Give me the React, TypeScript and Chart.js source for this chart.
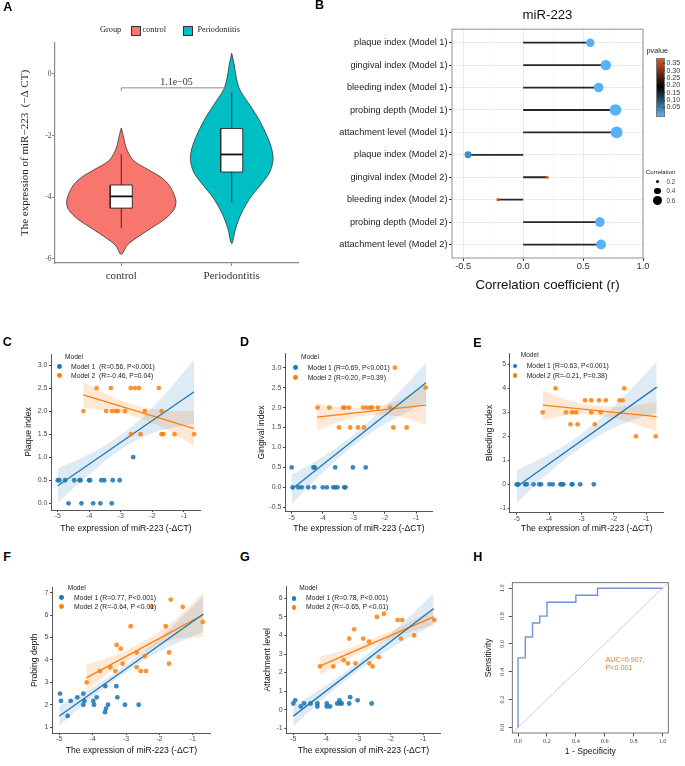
import React, { useEffect, useRef } from 'react';
import { Chart, registerables } from 'chart.js';

Chart.register(...registerables);

const SANS = '"Liberation Sans", Arial, sans-serif';
const SERIF = '"Liberation Serif", "Times New Roman", serif';

// ---------------- Panel A data ----------------
const GROUPS = ['control', 'Periodontitis'];
const GROUP_COLORS = ['#F8766D', '#00BFC4'];
const A_Y_TICKS = [-6, -4, -2, 0];
const A_Y_RANGE = [-6.13, 1.005];
const VIOLIN_CONTROL_Y = [-1.75, -2.0, -2.4, -2.8, -3.1, -3.35, -3.6, -3.9, -4.15, -4.4, -4.7, -5.0, -5.3, -5.55, -5.85];
const VIOLIN_CONTROL_HW = [0, 0.018, 0.045, 0.108, 0.243, 0.36, 0.432, 0.477, 0.495, 0.477, 0.396, 0.27, 0.144, 0.054, 0];
const VIOLIN_PERIO_Y = [0.67, 0.3, -0.1, -0.5, -0.9, -1.4, -1.9, -2.4, -2.8, -3.2, -3.6, -4.0, -4.5, -5.0, -5.5];
const VIOLIN_PERIO_HW = [0, 0.0225, 0.04, 0.072, 0.144, 0.234, 0.306, 0.36, 0.374, 0.342, 0.261, 0.171, 0.09, 0.036, 0];
// [lower whisker, Q1, median, Q3, upper whisker]
const BOX_CONTROL = [-5.0, -4.35, -3.97, -3.6, -2.6];
const BOX_PERIO = [-4.16, -3.18, -2.61, -1.77, -0.6];
const BRACKET_Y = [-0.55, -0.45];
const A_P_LABEL = '1.1e\u221205';

// ---------------- Panel B data ----------------
const B_LABELS = [
  'plaque index (Model 1)', 'gingival index (Model 1)', 'bleeding index (Model 1)', 'probing depth (Model 1)', 'attachment level (Model 1)',
  'plaque index (Model 2)', 'gingival index (Model 2)', 'bleeding index (Model 2)', 'probing depth (Model 2)', 'attachment level (Model 2)',
];
const B_CORR = [0.56, 0.69, 0.63, 0.77, 0.78, -0.46, 0.20, -0.21, 0.64, 0.65];
const B_PVAL = [0.001, 0.001, 0.001, 0.001, 0.001, 0.04, 0.39, 0.38, 0.001, 0.001];
const B_X_TICKS = [-0.5, -0.25, 0, 0.25, 0.5, 0.75, 1.0];
const B_X_RANGE = [-0.594, 1.0];
const B_P_LEGEND = [0.35, 0.30, 0.25, 0.20, 0.15, 0.10, 0.05];
const B_SIZE_LEGEND = [0.2, 0.4, 0.6];

// ---------------- Scatter panels (C-G) ----------------
const X_RANGE = [-5.216, -0.464];
const X_TICKS = [-5, -4, -3, -2, -1];
const FIT1_X = [-5.0, -0.68];
const FIT2_X = [-4.19, -0.68];
const BAND1_X = [-5.0, -4.0, -3.0, -2.0, -0.68];
const BAND2_X = [-4.19, -3.3, -2.5, -1.6, -0.68];

const C_M1_X = [-5.0, -4.95, -4.77, -4.66, -4.48, -4.31, -4.28, -4.25, -4.01, -3.98, -3.88, -3.65, -3.62, -3.53, -3.29, -3.26, -3.04, -2.61];
const C_M1_Y = [0.5, 0.5, 0.5, 0, 0.5, 0.5, 0.5, 0, 0.5, 0.5, 0, 0, 0.5, 0.5, 0, 0.5, 0.5, 1.0];
const C_M2_X = [-4.19, -3.77, -3.47, -3.32, -3.28, -3.16, -3.10, -2.87, -2.69, -2.68, -2.56, -2.43, -2.38, -2.24, -1.80, -1.71, -1.71, -1.66, -1.30, -0.68];
const C_M2_Y = [2.0, 2.5, 2.0, 2.5, 2.0, 2.0, 2.0, 2.0, 2.5, 1.5, 2.5, 2.5, 1.5, 2.0, 2.5, 2.0, 1.5, 1.5, 1.5, 1.5];
const C_FIT1_Y = [0.38, 2.42];
const C_FIT2_Y = [2.35, 1.62];
const C_BAND1_LO = [0.02, 0.63, 1.17, 1.52, 1.73];
const C_BAND1_HI = [0.76, 1.07, 1.49, 2.08, 3.11];
const C_BAND2_LO = [2.07, 2.0, 1.86, 1.61, 1.24];
const C_BAND2_HI = [2.63, 2.32, 2.12, 2.01, 2.0];
const C_Y_TICKS = [0, 0.5, 1, 1.5, 2, 2.5, 3];

const D_M1_X = [-5.0, -4.97, -4.79, -4.68, -4.47, -4.30, -4.26, -4.28, -4.0, -3.87, -3.66, -3.60, -3.60, -3.53, -3.31, -3.27, -3.03, -2.62];
const D_M1_Y = [0.5, 0, 0, 0, 0, 0.5, 0.5, 0, 0, 0, 0, 0, 0.5, 0, 0, 0, 0.5, 0.5];
const D_M2_X = [-4.17, -3.79, -3.48, -3.35, -3.30, -3.16, -3.12, -2.87, -2.70, -2.68, -2.58, -2.47, -2.42, -2.23, -1.83, -1.73, -1.68, -1.30, -0.69];
const D_M2_Y = [2.0, 2.0, 1.5, 2.0, 2.0, 2.0, 1.5, 1.5, 2.0, 1.5, 2.0, 2.0, 2.0, 2.0, 2.0, 1.5, 3.0, 1.5, 2.5];
const D_FIT1_Y = [-0.05, 2.62];
const D_FIT2_Y = [1.76, 2.06];
const D_BAND1_LO = [-0.42, 0.37, 1.05, 1.59, 2.12];
const D_BAND1_HI = [0.32, 0.77, 1.33, 2.03, 3.12];
const D_BAND2_LO = [1.42, 1.68, 1.80, 1.78, 1.56];
const D_BAND2_HI = [2.10, 2.0, 2.02, 2.18, 2.56];
const D_Y_TICKS = [-0.5, 0, 0.5, 1, 1.5, 2, 2.5, 3];

const E_M1_X = [-5.0, -4.95, -4.74, -4.69, -4.48, -4.30, -4.25, -3.99, -3.89, -3.65, -3.61, -3.56, -3.30, -3.28, -3.04, -2.62];
const E_M1_Y = [0, 0, 0, 0, 0, 0, 0, 0, 0, 0, 0, 0, 0, 0, 0, 0];
const E_M2_X = [-4.20, -3.80, -3.48, -3.34, -3.29, -3.17, -3.12, -2.89, -2.70, -2.70, -2.59, -2.46, -2.41, -2.25, -1.83, -1.73, -1.68, -1.32, -0.71];
const E_M2_Y = [3.0, 4.0, 3.0, 2.5, 3.0, 3.0, 2.5, 3.5, 3.5, 3.0, 2.5, 3.5, 3.0, 3.5, 3.5, 3.5, 4.0, 2.0, 2.0];
const E_FIT1_Y = [-0.1, 4.05];
const E_FIT2_Y = [3.3, 2.82];
const E_BAND1_LO = [-0.8, 0.49, 1.55, 2.35, 3.0];
const E_BAND1_HI = [0.6, 1.25, 2.11, 3.25, 5.1];
const E_BAND2_LO = [2.68, 2.9, 2.87, 2.62, 2.2];
const E_BAND2_HI = [3.92, 3.46, 3.27, 3.26, 3.44];
const E_Y_TICKS = [-1, 0, 1, 2, 3, 4, 5];

const F_M1_X = [-4.98, -4.95, -4.75, -4.66, -4.46, -4.28, -4.28, -4.25, -3.98, -3.96, -3.88, -3.62, -3.63, -3.60, -3.54, -3.29, -3.26, -3.03, -2.62];
const F_M1_Y = [2.5, 2.17, 1.5, 2.17, 2.33, 2.5, 2.0, 2.17, 2.17, 2.0, 2.33, 2.83, 1.67, 1.83, 2.0, 2.83, 2.33, 2.0, 2.0];
const F_M2_X = [-4.18, -3.78, -3.47, -3.32, -3.28, -3.16, -3.10, -2.86, -2.68, -2.68, -2.56, -2.44, -2.40, -2.23, -1.81, -1.71, -1.71, -1.66, -1.30, -0.70];
const F_M2_Y = [3.0, 3.5, 3.67, 3.5, 4.67, 4.5, 3.83, 5.5, 4.33, 3.67, 3.5, 4.17, 3.5, 6.38, 5.5, 4.33, 3.83, 6.69, 6.36, 5.69];
const F_FIT1_Y = [1.5, 6.05];
const F_FIT2_Y = [3.2, 6.02];
const F_BAND1_LO = [1.05, 2.34, 3.44, 4.37, 5.25];
const F_BAND1_HI = [1.95, 2.78, 3.8, 4.97, 6.85];
const F_BAND2_LO = [2.62, 3.63, 4.32, 4.9, 5.02];
const F_BAND2_HI = [3.78, 4.23, 4.82, 5.7, 7.02];
const F_Y_TICKS = [1, 2, 3, 4, 5, 6, 7];

const G_M1_X = [-5.0, -4.94, -4.77, -4.67, -4.47, -4.26, -4.26, -3.97, -3.97, -3.87, -3.65, -3.58, -3.56, -3.51, -3.28, -3.25, -3.02, -2.59];
const G_M1_Y = [0.33, 0.5, 0.17, 0.33, 0.33, 0.33, 0.17, 0.33, 0.17, 0.17, 0.33, 0.5, 0.33, 0.33, 0.33, 0.67, 0.5, 0.33];
const G_M2_X = [-4.18, -3.77, -3.45, -3.32, -3.28, -3.13, -3.09, -2.85, -2.67, -2.66, -2.56, -2.43, -2.37, -2.21, -1.79, -1.69, -1.65, -1.28, -0.66];
const G_M2_Y = [2.33, 2.33, 2.67, 2.5, 3.83, 4.33, 2.5, 3.83, 3.67, 2.5, 2.33, 5.0, 2.83, 5.17, 4.83, 3.83, 4.83, 4.0, 4.83];
const G_FIT1_Y = [-0.35, 5.45];
const G_FIT2_Y = [2.35, 5.0];
const G_BAND1_LO = [-0.9, 0.7, 2.1, 3.3, 4.6];
const G_BAND1_HI = [0.2, 1.3, 2.6, 4.1, 6.27];
const G_BAND2_LO = [1.85, 2.76, 3.42, 4.07, 4.58];
const G_BAND2_HI = [2.85, 3.30, 3.86, 4.57, 5.42];
const G_Y_TICKS = [-1, 0, 1, 2, 3, 4, 5, 6];

// ---------------- Panel H data ----------------
const ROC_FPR = [0, 0, 0.05, 0.05, 0.10, 0.10, 0.15, 0.15, 0.20, 0.20, 0.40, 0.40, 0.55, 0.55, 1.0];
const ROC_TPR = [0, 0.5, 0.5, 0.65, 0.65, 0.75, 0.75, 0.80, 0.80, 0.90, 0.90, 0.95, 0.95, 1.0, 1.0];
const H_RANGE = [-0.04, 1.04];
const H_TICKS = [0, 0.2, 0.4, 0.6, 0.8, 1.0];
const AUC_LINES = ['AUC=0.907,', 'P<0.001'];

// ---------------- colours ----------------
const BLUE_PT = 'rgba(31,119,180,0.88)';
const ORANGE_PT = 'rgba(255,127,14,0.85)';
const BLUE_LINE = '#1F77B4';
const ORANGE_LINE = '#FF7F0E';
const BLUE_BAND = 'rgba(31,119,180,0.15)';
const ORANGE_BAND = 'rgba(255,127,14,0.17)';
const P_LOW = [86, 177, 247];
const P_HIGH = [232, 84, 30];

type XY = { x: number; y: number };
const zip = (xs: number[], ys: number[]): XY[] => xs.map((x, i) => ({ x, y: ys[i] }));
const fixSize = (size: number) => (s: any) => { if (s.isHorizontal()) s.height = size; else s.width = size; };
const setTicks = (vals: number[]) => (s: any) => { s.ticks = vals.map((v) => ({ value: v })); };

function pColor(p: number) {
  const lo = Math.min(...B_PVAL), hi = Math.max(...B_PVAL), mid = 0.2;
  let c: number[];
  if (p <= mid) { const t = (p - lo) / (mid - lo); c = P_LOW.map((v) => v * (1 - t)); }
  else { const t = (p - mid) / (hi - mid); c = P_HIGH.map((v) => v * t); }
  return `rgb(${c.map((v) => Math.round(v)).join(',')})`;
}
const sizeOf = (r: number) => 7.6 * Math.abs(r);

const framePlugin = {
  id: 'frame',
  afterDraw(chart: any, _a: any, opts: any) {
    const { ctx, chartArea: a } = chart;
    ctx.save();
    ctx.strokeStyle = opts.color; ctx.lineWidth = opts.width;
    ctx.strokeRect(a.left, a.top, a.right - a.left, a.bottom - a.top);
    ctx.restore();
  },
};

type Box = { x: number; y: number; w: number; h: number };

// ---------------- Panel A ----------------
const A_BOX: Box = { x: 0, y: 0, w: 300, h: 292 };
const A_AREA = { l: 55, t: 43, r: 298, b: 263 };

function violinPoints(c: number, ys: number[], hw: number[]): XY[] {
  const right = ys.map((y, i) => ({ x: c + hw[i], y }));
  const left = ys.map((y, i) => ({ x: c - hw[i], y })).reverse().slice(1);
  return [...right, ...left];
}
function boxDatasets(c: number, b: number[]) {
  const hw = 0.1;
  return [
    { data: [{ x: c, y: b[0] }, { x: c, y: b[1] }], borderColor: '#222', borderWidth: 0.9, order: 4 },
    { data: [{ x: c, y: b[3] }, { x: c, y: b[4] }], borderColor: '#222', borderWidth: 0.9, order: 4 },
    { data: [{ x: c - hw, y: b[1] }, { x: c + hw, y: b[1] }, { x: c + hw, y: b[3] }, { x: c - hw, y: b[3] }, { x: c - hw, y: b[1] }],
      borderColor: '#222', borderWidth: 0.9, backgroundColor: '#FFFFFF', fill: 'shape', order: 3 },
    { data: [{ x: c - hw, y: b[2] }, { x: c + hw, y: b[2] }], borderColor: '#111', borderWidth: 1.8, order: 2 },
  ];
}

function aConfig(): any {
  const titleLh = 11 * 1.2;
  return {
    type: 'line',
    data: {
      datasets: [
        { data: violinPoints(1, VIOLIN_CONTROL_Y, VIOLIN_CONTROL_HW), borderColor: '#333', borderWidth: 0.8, backgroundColor: GROUP_COLORS[0], fill: 'shape', tension: 0.3, order: 5 },
        { data: violinPoints(2, VIOLIN_PERIO_Y, VIOLIN_PERIO_HW), borderColor: '#333', borderWidth: 0.8, backgroundColor: GROUP_COLORS[1], fill: 'shape', tension: 0.3, order: 5 },
        ...boxDatasets(1, BOX_CONTROL),
        ...boxDatasets(2, BOX_PERIO),
        { data: [{ x: 1, y: BRACKET_Y[0] }, { x: 1, y: BRACKET_Y[1] }, { x: 2, y: BRACKET_Y[1] }, { x: 2, y: BRACKET_Y[0] }], borderColor: '#8a8a8a', borderWidth: 1, order: 1 },
      ],
    },
    options: {
      responsive: false, animation: false, events: [],
      elements: { point: { radius: 0 }, line: { tension: 0 } },
      layout: { padding: { left: 0, top: A_AREA.t - A_BOX.y, right: A_BOX.x + A_BOX.w - A_AREA.r, bottom: 0 } },
      plugins: { legend: { display: false }, tooltip: { enabled: false } },
      scales: {
        x: {
          type: 'linear', min: 0.4, max: 2.6,
          afterBuildTicks: setTicks([1, 2]), afterFit: fixSize(A_BOX.y + A_BOX.h - A_AREA.b),
          ticks: { callback: (v: number) => GROUPS[Math.round(v) - 1], font: { family: SERIF, size: 11 }, color: '#333', padding: 4 },
          grid: { drawOnChartArea: false, tickLength: 3, tickColor: '#8a8a8a' },
          border: { color: '#8a8a8a', width: 1.2 },
        },
        y: {
          type: 'linear', min: A_Y_RANGE[0], max: A_Y_RANGE[1],
          afterBuildTicks: setTicks(A_Y_TICKS), afterFit: fixSize(A_AREA.l - A_BOX.x),
          ticks: { callback: (v: number) => String(v), font: { family: SERIF, size: 7.5 }, color: '#4D4D4D', padding: 0.5 },
          grid: { drawOnChartArea: false, tickLength: 3, tickColor: '#8a8a8a' },
          border: { color: '#8a8a8a', width: 1.2 },
          title: { display: true, text: 'The expression of miR\u2212223  (\u2212\u0394 CT)', font: { family: SERIF, size: 11 }, color: '#222', padding: { top: 25 - A_BOX.x - titleLh / 2, bottom: 0 } },
        },
      },
    },
  };
}

// ---------------- Panel B ----------------
const B_BOX: Box = { x: 300, y: 0, w: 385, h: 300 };
const B_AREA = { l: 452, t: 29, r: 643, b: 258 };

function bConfig(): any {
  const stems = B_CORR.map((v, i) => ({ data: [{ x: 0, y: i }, { x: v, y: i }], borderColor: '#262626', borderWidth: 1.8, order: 2 }));
  const dots = {
    data: B_CORR.map((v, i) => ({ x: v, y: i })), showLine: false,
    pointRadius: B_CORR.map(sizeOf), pointBackgroundColor: B_PVAL.map(pColor), pointBorderWidth: 0, pointBorderColor: 'transparent', order: 1,
  };
  const xLh = 13.2 * 1.2;
  const isMajor = (v: number) => Math.abs(v * 2 - Math.round(v * 2)) < 1e-6;
  return {
    type: 'line',
    data: { datasets: [dots, ...stems] },
    plugins: [framePlugin],
    options: {
      responsive: false, animation: false, events: [],
      elements: { point: { radius: 0 } },
      layout: { padding: { left: 0, top: 0, right: B_BOX.x + B_BOX.w - B_AREA.r, bottom: 0 } },
      plugins: {
        legend: { display: false }, tooltip: { enabled: false },
        title: { display: true, text: 'miR-223', fullSize: false, font: { family: SANS, size: 13.2, weight: 'normal' }, color: '#111', padding: { top: 7.2, bottom: 6.2 } },
        frame: { color: '#A3A3A3', width: 1.2 },
      },
      scales: {
        x: {
          type: 'linear', min: B_X_RANGE[0], max: B_X_RANGE[1],
          afterBuildTicks: setTicks(B_X_TICKS), afterFit: fixSize(B_BOX.y + B_BOX.h - B_AREA.b),
          ticks: { callback: (v: number) => (isMajor(v) ? v.toFixed(1) : ''), font: { family: SANS, size: 9.3 }, color: '#333', padding: 0, maxRotation: 0 },
          grid: {
            color: (c: any) => (c.tick && isMajor(c.tick.value) ? '#EBEBEB' : '#F4F4F4'),
            lineWidth: (c: any) => (c.tick && isMajor(c.tick.value) ? 1 : 0.6),
            tickColor: (c: any) => (c.tick && isMajor(c.tick.value) ? '#333' : 'rgba(0,0,0,0)'),
            tickLength: 3,
          },
          border: { display: false },
          title: { display: true, text: 'Correlation coefficient (r)', font: { family: SANS, size: 13.2 }, color: '#111', padding: { top: 0, bottom: B_BOX.y + B_BOX.h - 285.3 - xLh / 2 } },
        },
        y: {
          type: 'linear', min: -0.6, max: 9.6, reverse: true,
          afterBuildTicks: setTicks(B_LABELS.map((_, i) => i)), afterFit: fixSize(B_AREA.l - B_BOX.x),
          ticks: { callback: (v: number) => B_LABELS[v], font: { family: SANS, size: 9.2 }, color: '#222', padding: 1.5 },
          grid: { color: '#EBEBEB', lineWidth: 1, tickColor: '#333', tickLength: 3 },
          border: { display: false },
        },
      },
    },
  };
}

// ---------------- Scatter panels ----------------
type Area = { l: number; t: number; r: number; b: number };
interface ScatterSpec {
  area: Area; yRange: number[]; yTicks: number[]; yDec: number; yTitle: string; yTitleCX: number; xTitleCY: number;
  m1x: number[]; m1y: number[]; m2x: number[]; m2y: number[]; fit1y: number[]; fit2y: number[];
  b1lo: number[]; b1hi: number[]; b2lo: number[]; b2hi: number[];
  legend: { tx: number; ty: number; dx: number; d1: number; d2: number; lx: number; t1: string; t2: string };
}

const SCATTERS: ScatterSpec[] = [
  { area: { l: 51, t: 354, r: 200.9, b: 510 }, yRange: [-0.145, 3.239], yTicks: C_Y_TICKS, yDec: 1, yTitle: 'Plaque index', yTitleCX: 28.3, xTitleCY: 529,
    m1x: C_M1_X, m1y: C_M1_Y, m2x: C_M2_X, m2y: C_M2_Y, fit1y: C_FIT1_Y, fit2y: C_FIT2_Y, b1lo: C_BAND1_LO, b1hi: C_BAND1_HI, b2lo: C_BAND2_LO, b2hi: C_BAND2_HI,
    legend: { tx: 65, ty: 356.7, dx: 59.3, d1: 366.7, d2: 375.7, lx: 71, t1: 'Model 1  (R=0.56, P<0.001)', t2: 'Model 2  (R=-0.46, P=0.04)' } },
  { area: { l: 285, t: 353.3, r: 432.7, b: 511.7 }, yRange: [-0.61, 3.36], yTicks: D_Y_TICKS, yDec: 1, yTitle: 'Gingival index', yTitleCX: 261.7, xTitleCY: 529,
    m1x: D_M1_X, m1y: D_M1_Y, m2x: D_M2_X, m2y: D_M2_Y, fit1y: D_FIT1_Y, fit2y: D_FIT2_Y, b1lo: D_BAND1_LO, b1hi: D_BAND1_HI, b2lo: D_BAND2_LO, b2hi: D_BAND2_HI,
    legend: { tx: 301, ty: 357.3, dx: 295.7, d1: 367.7, d2: 377.7, lx: 307.7, t1: 'Model 1 (R=0.69, P<0.001)', t2: 'Model 2 (R=0.20, P=0.39)' } },
  { area: { l: 509.7, t: 353.3, r: 663.7, b: 512.7 }, yRange: [-1.18, 5.46], yTicks: E_Y_TICKS, yDec: 0, yTitle: 'Bleeding index', yTitleCX: 489.3, xTitleCY: 529,
    m1x: E_M1_X, m1y: E_M1_Y, m2x: E_M2_X, m2y: E_M2_Y, fit1y: E_FIT1_Y, fit2y: E_FIT2_Y, b1lo: E_BAND1_LO, b1hi: E_BAND1_HI, b2lo: E_BAND2_LO, b2hi: E_BAND2_HI,
    legend: { tx: 520.7, ty: 355, dx: 515, d1: 366, d2: 375.7, lx: 526.7, t1: 'Model 1 (R=0.63, P<0.001)', t2: 'Model 2 (R=-0.21, P=0.38)' } },
  { area: { l: 52.1, t: 587.7, r: 210.6, b: 733 }, yRange: [0.74, 7.22], yTicks: F_Y_TICKS, yDec: 0, yTitle: 'Probing depth', yTitleCX: 35, xTitleCY: 751,
    m1x: F_M1_X, m1y: F_M1_Y, m2x: F_M2_X, m2y: F_M2_Y, fit1y: F_FIT1_Y, fit2y: F_FIT2_Y, b1lo: F_BAND1_LO, b1hi: F_BAND1_HI, b2lo: F_BAND2_LO, b2hi: F_BAND2_HI,
    legend: { tx: 67.7, ty: 588.3, dx: 61.7, d1: 597.7, d2: 606.7, lx: 74, t1: 'Model 1 (R=0.77, P<0.001)', t2: 'Model 2 (R=-0.64, P <0.01)' } },
  { area: { l: 286.3, t: 586.7, r: 440.7, b: 733 }, yRange: [-1.26, 6.63], yTicks: G_Y_TICKS, yDec: 0, yTitle: 'Attachment level', yTitleCX: 267.3, xTitleCY: 751,
    m1x: G_M1_X, m1y: G_M1_Y, m2x: G_M2_X, m2y: G_M2_Y, fit1y: G_FIT1_Y, fit2y: G_FIT2_Y, b1lo: G_BAND1_LO, b1hi: G_BAND1_HI, b2lo: G_BAND2_LO, b2hi: G_BAND2_HI,
    legend: { tx: 299.3, ty: 588.3, dx: 294, d1: 598.3, d2: 607.3, lx: 306, t1: 'Model 1 (R=0.78, P<0.001)', t2: 'Model 2 (R=-0.65, P <0.01)' } },
];

function scatterBox(s: ScatterSpec): Box {
  const x = Math.floor(s.area.l - 48);
  const y = Math.floor(s.area.t - 10);
  return { x, y, w: Math.ceil(s.area.r + 14) - x, h: Math.min(766, Math.ceil(s.area.b + 32)) - y };
}

function scatterConfig(s: ScatterSpec): any {
  const box = scatterBox(s);
  const fs = 8.6, lh = fs * 1.2;
  const axisCol = '#444';
  const tickFont = { family: SANS, size: 7 };
  const band = (xs: number[], ys: number[], fill: any, bg: string) => ({
    data: zip(xs, ys), borderColor: 'transparent', borderWidth: 0, fill, backgroundColor: bg, tension: 0.4, order: 3,
  });
  return {
    type: 'line',
    data: {
      datasets: [
        { data: zip(s.m2x, s.m2y), showLine: false, pointRadius: 2.4, pointBackgroundColor: ORANGE_PT, pointBorderColor: 'transparent', pointBorderWidth: 0, order: 0 },
        { data: zip(s.m1x, s.m1y), showLine: false, pointRadius: 2.4, pointBackgroundColor: BLUE_PT, pointBorderColor: 'transparent', pointBorderWidth: 0, order: 1 },
        { data: zip(FIT1_X, s.fit1y), borderColor: BLUE_LINE, borderWidth: 1.3, order: 2 },
        { data: zip(FIT2_X, s.fit2y), borderColor: ORANGE_LINE, borderWidth: 1.3, order: 2 },
        band(BAND1_X, s.b1hi, '+1', BLUE_BAND),
        band(BAND1_X, s.b1lo, false, 'transparent'),
        band(BAND2_X, s.b2hi, '+1', ORANGE_BAND),
        band(BAND2_X, s.b2lo, false, 'transparent'),
      ],
    },
    options: {
      responsive: false, animation: false, events: [],
      elements: { point: { radius: 0 } },
      layout: { padding: { left: 0, top: s.area.t - box.y, right: box.x + box.w - s.area.r, bottom: 0 } },
      plugins: { legend: { display: false }, tooltip: { enabled: false } },
      scales: {
        x: {
          type: 'linear', min: X_RANGE[0], max: X_RANGE[1],
          afterBuildTicks: setTicks(X_TICKS), afterFit: fixSize(box.y + box.h - s.area.b),
          ticks: { callback: (v: number) => String(v), font: tickFont, color: '#4D4D4D', padding: 0, maxRotation: 0 },
          grid: { drawOnChartArea: false, tickLength: 2, tickColor: axisCol },
          border: { color: axisCol, width: 0.9 },
          title: { display: true, text: 'The expression of miR-223 (-\u0394CT)', font: { family: SANS, size: fs }, color: '#111', padding: { top: 0, bottom: box.y + box.h - lh / 2 - s.xTitleCY } },
        },
        y: {
          type: 'linear', min: s.yRange[0], max: s.yRange[1],
          afterBuildTicks: setTicks(s.yTicks), afterFit: fixSize(s.area.l - box.x),
          ticks: { callback: (v: number) => v.toFixed(s.yDec), font: tickFont, color: '#4D4D4D', padding: 1.6 },
          grid: { drawOnChartArea: false, tickLength: 2, tickColor: axisCol },
          border: { color: axisCol, width: 0.9 },
          title: { display: true, text: s.yTitle, font: { family: SANS, size: fs }, color: '#111', padding: { top: s.yTitleCX - box.x - lh / 2, bottom: 0 } },
        },
      },
    },
  };
}

// ---------------- Panel H ----------------
const H_BOX: Box = { x: 455, y: 570, w: 230, h: 196 };
const H_AREA = { l: 512.3, t: 582.7, r: 668.3, b: 733 };

function hConfig(): any {
  const fs = 8.6, lh = fs * 1.2;
  const tickFont = { family: SERIF, size: 6.2 };
  return {
    type: 'line',
    data: {
      datasets: [
        { data: zip(ROC_FPR, ROC_TPR), borderColor: '#7394D4', borderWidth: 1.4, order: 1 },
        { data: zip(H_RANGE, H_RANGE), borderColor: '#CFCFCF', borderWidth: 1, order: 2 },
      ],
    },
    plugins: [framePlugin],
    options: {
      responsive: false, animation: false, events: [],
      elements: { point: { radius: 0 } },
      layout: { padding: { left: 0, top: H_AREA.t - H_BOX.y, right: H_BOX.x + H_BOX.w - H_AREA.r, bottom: 0 } },
      plugins: { legend: { display: false }, tooltip: { enabled: false }, frame: { color: '#555', width: 0.8 } },
      scales: {
        x: {
          type: 'linear', min: H_RANGE[0], max: H_RANGE[1],
          afterBuildTicks: setTicks(H_TICKS), afterFit: fixSize(H_BOX.y + H_BOX.h - H_AREA.b),
          ticks: { callback: (v: number) => v.toFixed(1), font: tickFont, color: '#444', padding: 0.9, maxRotation: 0 },
          grid: { drawOnChartArea: false, tickLength: 3.5, tickColor: '#555' },
          border: { display: false },
          title: { display: true, text: '1 - Specificity', font: { family: SANS, size: fs }, color: '#111', padding: { top: 0, bottom: H_BOX.y + H_BOX.h - lh / 2 - 752 } },
        },
        y: {
          type: 'linear', min: H_RANGE[0], max: H_RANGE[1],
          afterBuildTicks: setTicks(H_TICKS), afterFit: fixSize(H_AREA.l - H_BOX.x),
          ticks: { callback: (v: number) => v.toFixed(1), font: tickFont, color: '#444', padding: 2.3, minRotation: 90, maxRotation: 90, crossAlign: 'center' },
          grid: { drawOnChartArea: false, tickLength: 3.5, tickColor: '#555' },
          border: { display: false },
          title: { display: true, text: 'Sensitivity', font: { family: SANS, size: fs }, color: '#111', padding: { top: 488.3 - H_BOX.x - lh / 2, bottom: 0 } },
        },
      },
    },
  };
}

// ---------------- HTML text helpers ----------------
function Txt(props: { x: number; y: number; size: number; text: string; color?: string; family?: string; weight?: number; align?: 'left' | 'center' }) {
  const { x, y, size, text, color = '#222', family = SANS, weight = 400, align = 'left' } = props;
  const lh = size * 1.2;
  return (
    <div style={{ position: 'absolute', left: x, top: y - lh / 2, fontSize: size, lineHeight: `${lh}px`, fontFamily: family, fontWeight: weight,
      color, whiteSpace: 'pre', transform: align === 'center' ? 'translateX(-50%)' : undefined }}>{text}</div>
  );
}
function Dot({ cx, cy, r, color }: { cx: number; cy: number; r: number; color: string }) {
  return <div style={{ position: 'absolute', left: cx - r, top: cy - r, width: 2 * r, height: 2 * r, borderRadius: '50%', background: color }} />;
}

const LETTERS: [string, number, number][] = [
  ['A', 3.3, 7.2], ['B', 315, 5.8], ['C', 2.7, 342.3], ['D', 240, 342.8], ['E', 473.3, 343.2], ['F', 3.3, 557.5], ['G', 240, 557.8], ['H', 473.3, 557.8],
];

export default function App() {
  const refs = useRef<(HTMLCanvasElement | null)[]>([]);
  const boxes: Box[] = [A_BOX, B_BOX, ...SCATTERS.map(scatterBox), H_BOX];

  useEffect(() => {
    const configs = [aConfig(), bConfig(), ...SCATTERS.map(scatterConfig), hConfig()];
    const charts: Chart[] = [];
    configs.forEach((cfg, i) => {
      const c = refs.current[i];
      if (c) charts.push(new Chart(c, cfg));
    });
    return () => charts.forEach((c) => c.destroy());
  }, []);

  const pMin = Math.min(...B_PVAL), pMax = Math.max(...B_PVAL);
  const barTop = 57.5, barH = 57.3;
  const pY = (p: number) => barTop + barH - ((p - pMin) / (pMax - pMin)) * barH;
  const midStop = ((0.2 - pMin) / (pMax - pMin)) * 100;

  return (
    <div style={{ position: 'absolute', left: 0, top: 0, width: 685, height: 766, background: '#fff', overflow: 'hidden' }}>
      {boxes.map((b, i) => (
        <canvas key={i} ref={(el) => { refs.current[i] = el; }} width={b.w} height={b.h}
          style={{ position: 'absolute', left: b.x, top: b.y, width: b.w, height: b.h }} />
      ))}

      {LETTERS.map(([t, x, y]) => <Txt key={t} x={x} y={y} size={12.5} weight={700} text={t} color="#000" />)}

      {/* Panel A legend and p label */}
      <Txt x={100} y={30} size={8.3} family={SERIF} text="Group" />
      <div style={{ position: 'absolute', left: 130.5, top: 25.5, width: 8.5, height: 8.5, background: GROUP_COLORS[0], border: '0.6px solid #333' }} />
      <Txt x={142.5} y={30} size={8.3} family={SERIF} text={GROUPS[0]} />
      <div style={{ position: 'absolute', left: 182.5, top: 25.5, width: 8.5, height: 8.5, background: GROUP_COLORS[1], border: '0.6px solid #333' }} />
      <Txt x={197.5} y={30} size={8.3} family={SERIF} text={GROUPS[1]} />
      <Txt x={176.5} y={81.5} size={10} family={SERIF} text={A_P_LABEL} align="center" color="#333" />

      {/* Panel B legends */}
      <Txt x={646.5} y={51.5} size={7.3} text="pvalue" />
      <div style={{ position: 'absolute', left: 655.5, top: barTop, width: 7, height: barH, border: '0.5px solid #777',
        background: `linear-gradient(to top, rgb(${P_LOW.join(',')}) 0%, #000 ${midStop}%, rgb(${P_HIGH.join(',')}) 100%)` }} />
      {B_P_LEGEND.map((p) => (
        <React.Fragment key={p}>
          <div style={{ position: 'absolute', left: 662.5, top: pY(p) - 0.4, width: 2, height: 0.8, background: '#333' }} />
          <Txt x={666.5} y={pY(p)} size={7} text={p.toFixed(2)} color="#333" />
        </React.Fragment>
      ))}
      <Txt x={646} y={172.5} size={6} text="Correlation" />
      {B_SIZE_LEGEND.map((v, i) => (
        <React.Fragment key={v}>
          <Dot cx={657.5} cy={181.5 + i * 9.5} r={sizeOf(v)} color="#000" />
          <Txt x={666.5} y={181.5 + i * 9.5} size={6.3} text={v.toFixed(1)} color="#444" />
        </React.Fragment>
      ))}

      {/* Scatter legends */}
      {SCATTERS.map((s, i) => (
        <React.Fragment key={i}>
          <Txt x={s.legend.tx} y={s.legend.ty} size={6.6} text="Model" />
          <Dot cx={s.legend.dx} cy={s.legend.d1} r={2.4} color={BLUE_LINE} />
          <Dot cx={s.legend.dx} cy={s.legend.d2} r={2.4} color={ORANGE_LINE} />
          <Txt x={s.legend.lx} y={s.legend.d1} size={6.8} text={s.legend.t1} />
          <Txt x={s.legend.lx} y={s.legend.d2} size={6.8} text={s.legend.t2} />
        </React.Fragment>
      ))}

      {/* Panel H annotation */}
      <Txt x={605.5} y={660} size={7.2} text={AUC_LINES[0]} color="#EC7A2C" />
      <Txt x={605.5} y={668.5} size={7.2} text={AUC_LINES[1]} color="#EC7A2C" />
    </div>
  );
}
